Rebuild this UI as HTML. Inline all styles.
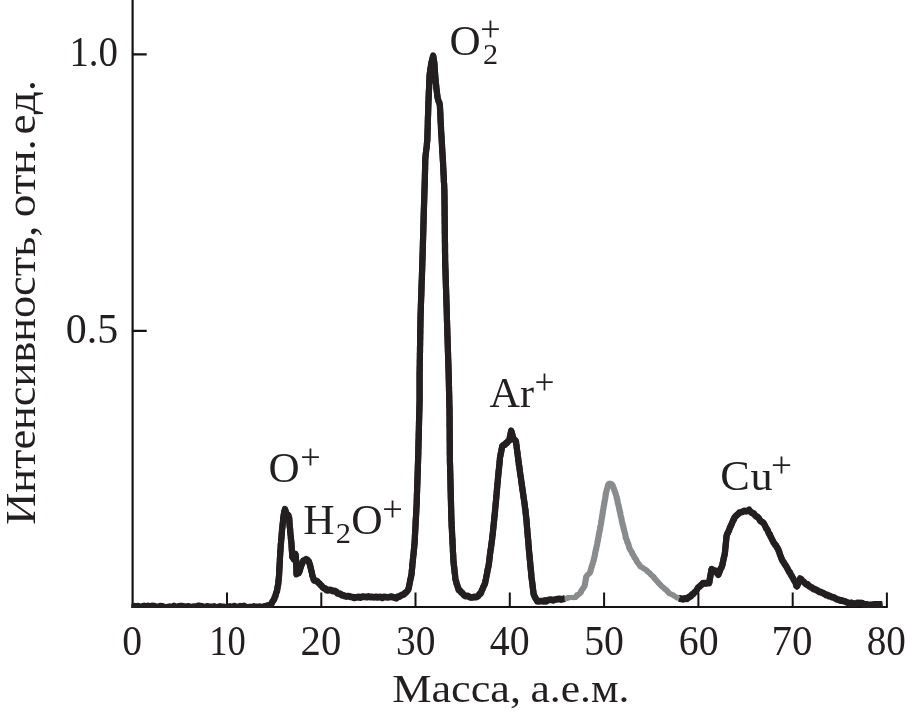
<!DOCTYPE html>
<html lang="ru"><head><meta charset="utf-8"><title>Масс-спектр</title>
<style>
html,body{margin:0;padding:0;background:#fff;}
svg{display:block;}
text{font-family:"Liberation Serif",serif;fill:#231f20;font-kerning:none;}
</style></head><body>
<svg width="907" height="716" viewBox="0 0 907 716">
<rect width="907" height="716" fill="#fff"/>
<g stroke="#151213" stroke-width="2.2" fill="none">
<path d="M132.6,0V607.9"/>
<path d="M131.5,606.9H887.8" stroke-width="2"/>
<path d="M132.6,54.45H146.7M132.6,330.8H146.7"/>
<path d="M227.0,606.9V592.4M321.3,606.9V592.4M415.5,606.9V592.4M509.8,606.9V592.4M604.1,606.9V592.4M698.4,606.9V592.4M792.7,606.9V592.4M886.9,606.9V592.4" stroke-width="2"/>
</g>
<clipPath id="plot"><rect x="131.5" y="0" width="760" height="607.9"/></clipPath>
<g fill="none" stroke-width="6.2" stroke-linejoin="round" stroke-linecap="butt" clip-path="url(#plot)">
<path stroke="#231f20" d="M131.6,606.6l1.5,-0.3l1.4,-0.4l1.5,0.9l2.0,-1.0l2.0,0.8l2.0,-0.3l2.0,-0.6l2.0,0.9l2.0,-0.9l2.0,0.7l2.0,-0.7l2.0,0.1l2.0,0.6l2.0,0.8l2.0,-1.4l2.0,0.2l2.0,0.8l2.0,0.6l2.0,-0.7l2.0,-0.3l2.0,1.0l2.0,-1.7l2.0,1.5l2.0,-1.0l2.0,-0.3l2.0,-0.1l2.0,0.4l2.0,0.9l2.0,-1.1l2.0,0.7l2.0,0.1l2.0,-0.5l2.0,0.3l2.0,-0.9l2.0,0.0l2.0,0.3l2.0,0.9l2.0,-0.5l2.0,-0.2l2.0,0.5l2.0,-0.2l2.0,-0.3l2.0,0.9l2.0,-0.2l2.0,-0.8l2.0,0.6l2.0,-0.1l2.0,0.7l2.0,-0.3l2.0,-0.8l2.0,1.2l2.0,-1.6l2.0,0.6l2.0,0.6l2.0,-1.1l2.0,0.6l2.0,-0.8l2.0,1.2l2.0,0.1l2.0,-0.3l2.0,0.6l1.6,-1.1l1.6,0.7l1.6,-0.2l1.6,-0.1l1.6,-0.2l1.3,0.4l1.4,0.0l1.3,-0.6l1.5,-0.0l1.5,-0.9l1.2,0.2l1.3,-0.6l1.1,-0.6l1.1,-1.2l0.9,-2.0l1.0,-1.4l0.6,-0.9l0.5,-2.0l0.6,-0.8l0.4,-1.7l0.4,-1.4l0.5,-1.5l0.4,-0.6l0.3,-2.4l0.3,-1.6l0.3,-1.6l0.3,-1.2l0.2,-2.5l0.1,-1.2l0.2,-1.5l0.1,-1.2l0.2,-1.7l0.1,-1.5l0.1,-2.2l0.1,-1.5l0.0,-1.6l0.1,-1.0l0.1,-1.5l0.1,-2.4l0.1,-1.5l0.1,-1.4l0.1,-1.5l0.0,-1.3l0.1,-1.4l0.1,-1.8l0.1,-2.0l0.1,-1.2l0.1,-1.7l0.1,-1.4l0.1,-1.3l0.1,-1.9l0.1,-1.8l0.2,-1.4l0.1,-1.4l0.1,-2.3l0.2,-0.6l0.1,-1.6l0.1,-1.4l0.1,-1.7l0.2,-1.9l0.1,-1.6l0.2,-2.1l0.2,-1.3l0.2,-2.4l0.2,-1.7l0.2,-1.5l0.1,-1.6l0.2,-1.5l0.2,-1.9l0.3,-1.7l0.2,-1.4l0.3,-1.7l0.3,-0.9l0.4,-1.5l1.0,3.1l0.4,1.1l0.5,0.9l1.5,1.1l0.4,1.4l0.4,1.3l0.1,1.4l0.1,2.5l0.1,1.9l0.1,1.1l0.1,1.5l0.2,1.0l0.2,1.5l0.1,1.7l0.1,1.4l0.2,2.1l0.1,0.8l0.2,1.3l0.1,2.5l0.2,1.1l0.1,1.1l0.2,1.9l0.1,1.0l0.1,2.0l0.1,2.1l0.1,1.4l0.1,1.3l0.1,1.1l0.1,1.6l0.1,1.4l0.1,2.1l0.8,0.9l0.8,1.5l0.4,-1.9l0.3,-1.6l0.4,-0.7l0.4,-1.2l0.2,1.4l0.1,1.5l0.2,1.6l0.1,1.5l0.2,1.0l0.0,1.9l0.1,1.3l0.0,1.2l0.1,1.5l-0.0,1.8l0.0,1.5l0.1,2.0l0.0,1.9l1.1,-1.1l1.2,0.0l0.6,-1.4l0.6,-1.6l0.5,-2.2l0.6,-1.7l0.6,-1.4l0.6,-1.5l0.5,-1.5l0.6,-1.0l1.4,-0.5l1.3,-0.8l1.4,0.8l1.3,1.3l0.5,1.7l0.4,0.7l0.5,2.2l0.5,1.8l0.3,1.4l0.3,1.5l0.4,1.2l0.3,1.3l0.3,2.2l0.4,0.8l0.5,1.9l0.5,1.5l0.4,0.7l1.5,0.3l1.6,0.8l1.0,1.2l1.1,0.7l1.0,1.3l1.2,1.0l1.2,1.7l1.3,0.8l1.2,0.2l1.2,1.7l1.5,0.2l1.5,-0.3l1.8,0.3l1.7,0.7l1.8,0.1l1.5,0.6l1.4,1.7l1.5,0.3l1.5,0.5l1.4,1.1l1.5,0.1l1.5,0.8l1.5,0.3l1.5,-0.3l1.5,0.3l1.5,0.4l1.5,0.3l1.5,0.7l1.6,-0.5l1.6,0.0l1.6,-0.5l1.6,0.7l1.6,-0.8l1.6,0.0l1.6,0.1l1.6,0.3l1.6,-0.6l1.6,0.5l1.5,-0.2l1.5,0.2l1.5,0.2l1.5,-0.4l1.6,0.5l1.5,-0.2l1.6,-0.2l1.6,0.9l1.7,-0.9l1.8,0.2l1.7,0.2l1.8,-0.3l1.7,-0.4l1.8,0.5l1.8,0.4l1.8,0.6l1.5,-1.5l1.6,-0.2l1.5,-1.0l1.5,-0.7l1.2,-0.3l1.1,-1.2l1.2,-0.8l0.8,-0.9l0.9,-1.0l0.8,-1.6l0.3,-1.3l0.3,-1.6l0.3,-1.5l0.3,-1.3l0.3,-1.8l0.3,-1.4l0.3,-1.6l0.3,-1.0l0.3,-1.7l0.3,-1.3l0.2,-1.5l0.1,-2.4l0.2,-1.2l0.1,-1.2l0.2,-1.7l0.1,-2.3l0.2,-1.6l0.2,-1.2l0.1,-2.0l0.2,-1.4l0.1,-1.8l0.2,-0.9l0.2,-1.5l0.1,-1.4l0.2,-2.4l0.1,-1.0l0.2,-1.6l0.1,-2.2l0.2,-0.7l0.1,-1.6l0.1,-2.4l0.1,-0.8l0.1,-2.3l0.0,-1.5l0.1,-1.1l0.1,-1.8l0.1,-2.3l0.1,-1.4l0.1,-1.5l0.1,-1.8l0.1,-1.8l0.0,-1.5l0.1,-1.2l0.1,-2.4l0.1,-1.0l0.1,-1.7l0.1,-2.1l0.1,-1.3l0.1,-1.3l0.0,-1.8l0.1,-2.1l0.1,-0.6l0.1,-1.8l0.1,-1.4l0.0,-2.6l0.1,-1.4l0.0,-1.9l0.1,-0.8l0.0,-2.2l0.1,-1.7l0.0,-1.3l0.1,-1.1l0.0,-1.7l0.1,-2.2l0.0,-1.8l0.1,-0.7l0.1,-2.0l0.0,-1.5l0.1,-2.3l0.0,-1.6l0.1,-0.9l0.0,-1.9l0.1,-2.0l0.0,-0.7l0.1,-1.9l0.0,-1.5l0.1,-2.4l0.0,-0.7l0.1,-2.5l0.0,-0.7l0.1,-2.1l0.0,-1.7l0.1,-1.3l0.0,-1.2l0.1,-2.3l-0.0,-1.8l0.0,-1.1l0.1,-1.9l0.0,-1.7l0.1,-1.5l-0.0,-1.7l0.0,-1.4l0.1,-1.5l0.0,-1.6l0.1,-1.1l-0.0,-2.1l0.0,-1.3l0.1,-1.9l0.0,-1.4l0.1,-2.0l-0.0,-1.3l0.0,-1.8l0.1,-0.8l0.0,-1.8l0.0,-2.0l0.1,-1.3l0.0,-1.0l0.1,-2.5l0.0,-0.8l0.0,-2.0l0.1,-1.5l0.0,-1.2l0.1,-2.1l0.0,-1.4l0.0,-1.4l0.1,-1.3l0.0,-2.3l0.1,-1.0l0.0,-1.7l0.0,-1.7l0.0,-1.9l0.0,-1.6l0.0,-1.9l0.0,-1.6l0.0,-1.6l0.0,-0.9l0.0,-2.1l0.0,-1.7l0.0,-1.7l0.0,-0.8l0.0,-1.5l0.0,-1.9l0.0,-2.0l0.0,-1.6l0.0,-1.6l0.0,-1.4l0.1,-1.9l-0.0,-1.2l0.0,-1.8l0.0,-0.8l0.1,-1.6l-0.0,-2.1l0.0,-1.9l0.0,-0.8l0.1,-2.3l-0.0,-1.5l0.0,-2.0l0.0,-1.2l0.1,-1.4l-0.0,-1.6l0.0,-1.9l0.0,-1.3l0.1,-2.1l-0.0,-1.3l0.0,-1.8l0.0,-1.2l0.1,-2.0l-0.0,-1.6l0.0,-1.3l0.0,-1.6l0.1,-1.2l-0.0,-1.7l0.0,-1.3l0.0,-1.7l0.1,-1.5l-0.0,-1.4l0.0,-2.1l0.0,-1.7l0.1,-0.8l-0.0,-2.6l0.0,-0.9l0.1,-1.7l0.0,-2.2l0.1,-0.7l0.0,-1.6l0.1,-1.8l0.0,-1.5l0.1,-1.5l0.0,-2.3l0.1,-1.2l0.0,-1.6l0.1,-1.2l0.0,-1.7l0.1,-1.5l0.1,-1.9l0.0,-1.2l0.1,-1.8l0.0,-1.6l0.1,-2.1l0.0,-1.8l0.1,-1.5l0.0,-1.3l0.1,-1.9l0.0,-0.8l0.1,-1.9l0.1,-1.5l0.0,-1.6l0.1,-1.5l0.0,-1.8l0.1,-2.1l0.0,-0.7l0.1,-1.7l0.0,-1.8l0.1,-1.6l0.0,-1.4l0.1,-2.3l0.0,-0.8l0.1,-2.1l0.0,-1.8l0.1,-1.4l0.0,-1.0l0.1,-2.2l0.0,-1.0l0.1,-1.3l0.0,-2.1l0.1,-1.7l-0.0,-1.5l0.0,-1.3l0.1,-1.5l0.0,-1.8l0.1,-1.5l0.0,-2.2l0.1,-1.5l0.0,-1.5l0.1,-1.0l-0.0,-2.1l0.0,-1.3l0.1,-2.2l0.0,-1.5l0.1,-1.4l0.0,-1.1l0.1,-1.5l0.0,-1.6l0.0,-2.0l0.1,-1.4l0.0,-1.6l0.1,-1.6l0.0,-2.0l0.1,-0.7l0.0,-2.3l0.1,-0.7l0.0,-1.7l0.1,-2.6l0.0,-1.1l0.1,-1.2l0.0,-1.4l0.1,-2.2l0.0,-1.8l0.1,-1.7l0.0,-0.8l0.1,-2.4l0.0,-1.2l0.1,-2.0l0.0,-1.2l0.1,-1.2l0.0,-2.5l0.1,-0.8l0.0,-2.0l0.1,-1.2l0.0,-1.8l0.0,-2.1l0.1,-0.9l0.0,-2.1l0.1,-2.1l-0.0,-1.7l0.0,-1.1l0.1,-1.6l-0.0,-1.8l0.0,-1.8l0.1,-1.4l0.0,-1.7l0.2,-1.0l0.2,-2.5l0.1,-0.8l0.2,-1.5l0.2,-2.4l0.2,-0.7l0.2,-1.8l0.2,-1.4l0.1,-2.3l0.2,-1.5l0.2,-1.6l0.0,-0.9l0.1,-2.1l0.0,-1.8l0.1,-1.5l0.0,-1.8l0.1,-1.8l0.0,-1.6l0.1,-0.8l0.0,-2.2l0.1,-0.9l0.0,-2.3l0.0,-1.6l0.1,-1.3l0.0,-2.0l0.1,-1.4l0.0,-0.9l0.1,-1.7l0.0,-1.7l0.1,-1.8l0.0,-1.3l0.1,-1.6l0.0,-2.0l0.1,-1.4l0.0,-2.3l0.1,-0.9l0.1,-1.9l0.0,-1.2l0.1,-1.7l0.1,-2.0l0.0,-1.9l0.1,-0.6l0.1,-2.5l0.1,-1.2l0.0,-1.7l0.1,-1.6l0.1,-1.1l0.0,-1.4l0.1,-2.3l0.1,-1.2l0.0,-2.0l0.1,-1.3l0.2,-1.8l0.3,-1.9l0.2,-1.7l0.2,-1.6l0.3,-0.9l0.2,-2.1l0.3,-2.0l0.2,-0.9l0.4,-1.3l0.5,-2.1l0.4,-1.7l0.4,-1.4l0.2,1.4l0.3,1.9l0.2,1.2l0.3,1.7l0.2,1.6l0.1,2.0l0.1,1.9l0.1,1.5l0.1,1.3l0.1,1.6l0.2,1.8l0.1,1.4l0.1,1.6l0.1,1.3l0.1,1.9l0.2,2.4l0.2,0.7l0.2,2.1l0.2,1.8l0.1,1.8l0.2,1.0l0.2,1.7l0.2,1.6l0.2,1.8l0.2,1.7l0.4,2.0l0.4,1.4l0.4,1.5l0.5,0.5l0.4,1.5l0.4,2.2l0.1,1.8l0.0,1.1l0.1,1.7l0.1,0.9l0.1,2.0l0.1,2.1l0.0,1.5l0.1,1.6l0.1,1.7l0.0,0.8l0.1,1.4l0.1,1.6l0.1,2.0l0.1,1.7l0.0,1.9l0.1,1.3l0.1,1.5l0.1,1.7l0.1,1.3l0.1,1.7l0.1,1.0l0.1,2.4l0.1,1.0l0.1,2.3l0.1,1.3l0.0,1.2l0.1,1.4l0.1,1.8l0.1,2.0l0.1,1.6l0.1,1.0l0.1,1.5l0.1,2.1l0.1,1.7l0.1,1.3l0.1,1.4l0.1,2.0l0.0,1.0l0.1,1.9l0.1,1.8l0.1,2.1l0.1,1.2l0.0,1.9l0.1,1.1l0.1,1.4l0.1,1.6l0.0,2.3l0.1,1.3l0.1,1.2l0.1,1.3l0.1,2.1l0.0,1.8l0.1,1.3l0.1,1.4l0.0,2.0l0.0,1.9l0.1,0.9l-0.0,1.4l-0.0,1.9l0.0,1.7l0.0,1.9l0.0,1.1l0.1,2.3l-0.0,1.5l-0.0,1.4l-0.0,1.3l0.0,2.4l0.0,0.9l0.0,2.2l0.1,0.9l-0.0,1.6l0.0,2.3l0.0,1.1l0.0,2.3l0.1,1.1l-0.0,1.3l-0.0,1.6l0.0,1.8l0.0,1.9l0.0,2.0l0.1,0.7l-0.0,1.9l-0.0,1.4l0.0,2.4l0.0,0.7l0.0,1.5l0.1,1.7l-0.0,1.9l-0.0,2.2l0.0,1.6l0.0,1.4l0.0,1.9l0.1,1.6l-0.0,0.9l-0.0,1.5l0.0,2.4l0.0,1.4l0.1,0.8l0.0,2.3l0.1,1.3l0.0,1.5l0.1,1.6l0.0,1.4l0.1,1.4l0.0,1.9l0.1,1.7l0.0,2.2l0.1,0.7l0.0,2.5l0.1,0.7l0.0,1.8l0.1,2.1l0.0,1.6l0.1,1.1l0.0,1.2l0.1,2.1l0.0,1.4l0.1,2.2l0.0,0.8l0.1,1.8l0.0,2.1l0.1,0.7l0.0,2.0l0.1,2.0l0.0,1.6l0.1,0.7l0.0,1.6l0.1,1.6l0.0,2.6l0.1,0.8l0.0,2.1l0.1,1.8l0.0,1.0l0.0,1.5l0.1,2.3l0.0,1.2l0.1,1.2l0.0,2.1l0.1,1.2l0.0,1.5l0.1,1.3l0.0,2.4l0.1,1.7l0.0,1.3l0.1,1.9l0.0,0.6l0.1,1.8l0.0,1.9l0.1,2.1l0.0,1.6l0.1,0.9l0.0,1.5l0.1,1.7l0.0,1.7l0.1,2.1l0.0,0.7l0.1,2.3l0.0,1.5l0.1,1.7l0.0,1.5l0.1,1.4l0.0,1.3l0.1,1.6l0.0,1.6l0.1,2.0l0.0,0.9l0.1,1.7l0.0,2.2l0.1,1.0l0.0,1.4l0.0,1.6l0.1,2.1l0.0,1.4l0.1,2.4l-0.0,1.5l0.0,1.7l0.1,0.8l0.0,1.4l0.0,1.7l0.1,2.0l0.0,1.9l0.1,1.3l-0.0,1.4l0.0,1.8l0.1,1.9l0.0,1.6l0.0,1.7l0.1,1.8l0.0,1.4l0.1,1.0l0.0,2.4l0.0,1.0l0.0,1.9l0.0,1.4l0.1,2.1l-0.0,1.0l-0.0,1.6l-0.0,1.7l0.0,1.5l0.0,2.4l0.0,1.3l0.0,1.3l0.1,1.7l-0.0,2.3l-0.0,1.0l-0.0,1.3l0.0,2.3l0.0,1.4l0.0,2.0l0.0,0.7l0.1,2.0l-0.0,2.0l-0.0,1.6l-0.0,1.7l0.0,0.7l0.0,1.8l0.0,1.5l0.0,1.7l0.1,2.4l-0.0,1.2l-0.0,2.0l0.0,1.0l0.0,2.1l0.1,1.2l0.0,1.3l0.1,2.2l-0.0,1.7l0.0,0.7l0.1,2.1l0.0,1.6l0.1,1.2l-0.0,1.7l0.0,1.4l0.1,1.6l0.0,1.6l0.1,2.0l-0.0,1.6l0.0,1.1l0.1,1.4l0.0,1.9l0.0,2.0l0.1,1.0l0.0,1.8l0.1,1.4l0.0,2.3l0.0,1.3l0.1,1.0l0.0,1.6l0.1,1.9l0.0,1.8l0.0,1.7l0.1,0.9l0.0,1.7l0.1,2.2l0.0,1.2l0.0,1.5l0.1,1.6l0.0,2.3l0.1,0.9l0.0,1.8l0.1,1.4l0.1,1.7l0.0,2.1l0.1,1.8l0.1,0.9l0.1,1.4l0.1,2.2l0.0,1.0l0.1,1.4l0.1,2.6l0.1,1.1l0.1,2.1l0.1,1.1l0.0,2.2l0.1,1.1l0.1,1.3l0.1,1.5l0.1,2.2l0.0,1.7l0.1,1.9l0.1,0.7l0.1,2.2l0.1,1.4l0.0,1.7l0.1,1.2l0.1,1.8l0.2,1.9l0.2,2.1l0.2,0.7l0.2,2.1l0.2,2.0l0.1,1.8l0.2,0.8l0.2,1.5l0.2,2.6l0.2,1.6l0.2,1.1l0.5,1.2l0.5,2.5l0.5,1.0l0.6,2.2l0.5,1.3l0.5,1.8l1.1,0.4l1.1,1.7l1.0,0.5l1.1,1.3l1.1,1.5l1.5,0.6l1.5,-0.1l1.5,0.6l1.5,0.8l1.5,0.2l1.5,-0.2l1.5,-0.3l1.5,0.2l1.1,-0.5l1.2,-0.8l1.1,-1.9l1.1,-0.4l0.6,-1.3l0.7,-2.3l0.6,-0.6l0.7,-2.3l0.6,-0.9l0.7,-1.6l0.6,-1.4l0.3,-2.0l0.4,-1.5l0.3,-1.5l0.3,-1.8l0.3,-1.4l0.4,-1.8l0.3,-1.7l0.3,-2.1l0.3,-0.9l0.4,-1.8l0.3,-1.9l0.2,-1.0l0.2,-1.6l0.2,-1.9l0.2,-1.9l0.2,-1.3l0.2,-2.0l0.2,-1.5l0.2,-1.3l0.2,-1.9l0.3,-1.2l0.2,-1.5l0.2,-2.1l0.2,-0.9l0.2,-2.2l0.2,-0.9l0.2,-1.5l0.2,-1.9l0.2,-2.1l0.2,-1.0l0.2,-1.8l0.1,-0.9l0.2,-2.5l0.1,-0.8l0.2,-1.4l0.1,-1.9l0.2,-1.5l0.2,-2.2l0.1,-0.7l0.2,-2.1l0.1,-1.1l0.2,-1.6l0.2,-2.4l0.1,-0.9l0.2,-1.5l0.1,-2.5l0.2,-1.3l0.1,-1.1l0.2,-2.2l0.1,-0.8l0.2,-2.3l0.1,-1.0l0.2,-2.3l0.1,-1.2l0.1,-1.2l0.2,-2.3l0.1,-1.6l0.2,-1.3l0.1,-1.8l0.2,-1.9l0.1,-1.4l0.1,-1.6l0.2,-0.8l0.1,-1.9l0.2,-1.3l0.1,-2.4l0.2,-1.0l0.1,-2.3l0.2,-1.2l0.1,-1.5l0.2,-1.9l0.2,-1.0l0.1,-2.0l0.2,-1.6l0.2,-1.3l0.1,-2.4l0.2,-0.7l0.1,-2.0l0.2,-1.9l0.3,-1.0l0.3,-2.1l0.3,-0.7l0.3,-2.0l0.3,-1.7l0.3,-1.1l0.3,-1.8l1.3,-1.3l1.3,-0.4l1.3,-1.7l1.0,-0.2l1.0,-1.6l1.0,-0.6l0.4,-1.1l0.3,-2.0l0.3,-1.4l0.4,-1.9l0.4,-1.8l0.3,-1.5l0.5,1.7l0.5,2.0l0.4,1.3l0.5,1.6l0.5,1.9l1.2,0.6l1.2,1.6l0.2,2.1l0.2,1.0l0.2,1.5l0.2,2.1l0.2,1.3l0.2,1.9l0.3,1.5l0.2,2.0l0.2,1.6l0.2,1.2l0.2,2.1l0.2,1.4l0.2,1.2l0.2,2.6l0.3,0.8l0.2,1.5l0.2,1.6l0.3,2.2l0.2,1.9l0.2,1.5l0.2,1.2l0.3,1.5l0.2,1.3l0.2,2.4l0.3,1.5l0.2,1.4l0.2,1.9l0.3,1.4l0.2,2.2l0.2,1.4l0.3,1.1l0.2,2.3l0.2,0.7l0.2,2.1l0.3,1.5l0.2,1.4l0.2,1.4l0.3,2.4l0.2,0.8l0.2,2.1l0.2,2.0l0.2,0.6l0.2,1.6l0.1,2.0l0.2,1.4l0.2,1.7l0.2,1.7l0.1,0.9l0.2,1.8l0.1,1.6l0.1,1.4l0.2,2.5l0.1,1.5l0.2,1.6l0.1,0.8l0.1,2.6l0.2,1.5l0.1,1.3l0.1,1.9l0.2,1.3l0.1,1.4l0.2,1.5l0.1,1.8l0.1,1.4l0.2,1.9l0.1,2.1l0.1,1.6l0.2,1.7l0.1,1.5l0.2,1.1l0.1,1.9l0.2,1.4l0.1,2.0l0.2,1.3l0.1,1.3l0.2,2.1l0.1,1.9l0.2,0.8l0.1,2.3l0.2,0.6l0.1,1.9l0.2,1.6l0.1,2.1l0.2,1.8l0.2,1.4l0.2,1.2l0.2,2.2l0.2,1.0l0.2,1.5l0.2,2.3l0.2,1.3l0.2,1.7l0.2,1.5l0.2,2.0l0.2,1.0l0.7,1.7l0.7,1.2l0.7,1.5l0.7,0.9l0.7,1.6l1.6,-0.0l1.7,-0.1l1.6,0.0l1.5,0.2l1.4,-0.8l1.5,0.7l1.5,-1.1l1.7,-0.4l1.7,-0.1l1.7,0.7l1.6,-0.7l1.7,-0.3l1.7,-0.3l1.6,-0.1l1.4,0.5l1.4,-0.4l1.3,-0.2l1.4,-0.5"/>
<path stroke="#231f20" d="M131.6,606.6l1.5,-0.3l1.4,-0.4l1.5,0.9l2.0,-1.0l2.0,0.8l2.0,-0.3l2.0,-0.6l2.0,0.9l2.0,-0.9l2.0,0.7l2.0,-0.7l2.0,0.1l2.0,0.6l2.0,0.8l2.0,-1.4l2.0,0.2l2.0,0.8l2.0,0.6l2.0,-0.7l2.0,-0.3l2.0,1.0l2.0,-1.7l2.0,1.5l2.0,-1.0l2.0,-0.3l2.0,-0.1l2.0,0.4l2.0,0.9l2.0,-1.1l2.0,0.7l2.0,0.1l2.0,-0.5l2.0,0.3l2.0,-0.9l2.0,0.0l2.0,0.3l2.0,0.9l2.0,-0.5l2.0,-0.2l2.0,0.5l2.0,-0.2l2.0,-0.3l2.0,0.9l2.0,-0.2l2.0,-0.8l2.0,0.6l2.0,-0.1l2.0,0.7l2.0,-0.3l2.0,-0.8l2.0,1.2l2.0,-1.6l2.0,0.6l2.0,0.6l2.0,-1.1l2.0,0.6l2.0,-0.8l2.0,1.2l2.0,0.1l2.0,-0.3l2.0,0.6l1.6,-1.1l1.6,0.7l1.6,-0.2l1.6,-0.1l1.6,-0.2l1.3,0.4l1.4,0.0l1.3,-0.6l1.5,-0.0l1.5,-0.9l1.2,0.2l1.3,-0.6l1.1,-0.6l1.1,-1.2l0.9,-2.0l1.0,-1.4l0.6,-0.9l0.5,-2.0l0.6,-0.8l0.4,-1.7l0.4,-1.4l0.5,-1.5l0.4,-0.6l0.3,-2.4l0.3,-1.6l0.3,-1.6l0.3,-1.2l0.2,-2.5l0.1,-1.2l0.2,-1.5l0.1,-1.2l0.2,-1.7l0.1,-1.5l0.1,-2.2l0.1,-1.5l0.0,-1.6l0.1,-1.0l0.1,-1.5l0.1,-2.4l0.1,-1.5l0.1,-1.4l0.1,-1.5l0.0,-1.3l0.1,-1.4l0.1,-1.8l0.1,-2.0l0.1,-1.2l0.1,-1.7l0.1,-1.4l0.1,-1.3l0.1,-1.9l0.1,-1.8l0.2,-1.4l0.1,-1.4l0.1,-2.3l0.2,-0.6l0.1,-1.6l0.1,-1.4l0.1,-1.7l0.2,-1.9l0.1,-1.6l0.2,-2.1l0.2,-1.3l0.2,-2.4l0.2,-1.7l0.2,-1.5l0.1,-1.6l0.2,-1.5l0.2,-1.9l0.3,-1.7l0.2,-1.4l0.3,-1.7l0.3,-0.9l0.4,-1.5l1.0,3.1l0.4,1.1l0.5,0.9l1.5,1.1l0.4,1.4l0.4,1.3l0.1,1.4l0.1,2.5l0.1,1.9l0.1,1.1l0.1,1.5l0.2,1.0l0.2,1.5l0.1,1.7l0.1,1.4l0.2,2.1l0.1,0.8l0.2,1.3l0.1,2.5l0.2,1.1l0.1,1.1l0.2,1.9l0.1,1.0l0.1,2.0l0.1,2.1l0.1,1.4l0.1,1.3l0.1,1.1l0.1,1.6l0.1,1.4l0.1,2.1l0.8,0.9l0.8,1.5l0.4,-1.9l0.3,-1.6l0.4,-0.7l0.4,-1.2l0.2,1.4l0.1,1.5l0.2,1.6l0.1,1.5l0.2,1.0l0.0,1.9l0.1,1.3l0.0,1.2l0.1,1.5l-0.0,1.8l0.0,1.5l0.1,2.0l0.0,1.9l1.1,-1.1l1.2,0.0l0.6,-1.4l0.6,-1.6l0.5,-2.2l0.6,-1.7l0.6,-1.4l0.6,-1.5l0.5,-1.5l0.6,-1.0l1.4,-0.5l1.3,-0.8l1.4,0.8l1.3,1.3l0.5,1.7l0.4,0.7l0.5,2.2l0.5,1.8l0.3,1.4l0.3,1.5l0.4,1.2l0.3,1.3l0.3,2.2l0.4,0.8l0.5,1.9l0.5,1.5l0.4,0.7l1.5,0.3l1.6,0.8l1.0,1.2l1.1,0.7l1.0,1.3l1.2,1.0l1.2,1.7l1.3,0.8l1.2,0.2l1.2,1.7l1.5,0.2l1.5,-0.3l1.8,0.3l1.7,0.7l1.8,0.1l1.5,0.6l1.4,1.7l1.5,0.3l1.5,0.5l1.4,1.1l1.5,0.1l1.5,0.8l1.5,0.3l1.5,-0.3l1.5,0.3l1.5,0.4l1.5,0.3l1.5,0.7l1.6,-0.5l1.6,0.0l1.6,-0.5l1.6,0.7l1.6,-0.8l1.6,0.0l1.6,0.1l1.6,0.3l1.6,-0.6l1.6,0.5l1.5,-0.2l1.5,0.2l1.5,0.2l1.5,-0.4l1.6,0.5l1.5,-0.2l1.6,-0.2l1.6,0.9l1.7,-0.9l1.8,0.2l1.7,0.2l1.8,-0.3l1.7,-0.4l1.8,0.5l1.8,0.4l1.8,0.6l1.5,-1.5l1.6,-0.2l1.5,-1.0l1.5,-0.7l1.2,-0.3l1.1,-1.2l1.2,-0.8l0.8,-0.9l0.9,-1.0l0.8,-1.6l0.3,-1.3l0.3,-1.6l0.3,-1.5l0.3,-1.3l0.3,-1.8l0.3,-1.4l0.3,-1.6l0.3,-1.0l0.3,-1.7l0.3,-1.3l0.2,-1.5l0.1,-2.4l0.2,-1.2l0.1,-1.2l0.2,-1.7l0.1,-2.3l0.2,-1.6l0.2,-1.2l0.1,-2.0l0.2,-1.4l0.1,-1.8l0.2,-0.9l0.2,-1.5l0.1,-1.4l0.2,-2.4l0.1,-1.0l0.2,-1.6l0.1,-2.2l0.2,-0.7l0.1,-1.6l0.1,-2.4l0.1,-0.8l0.1,-2.3l0.0,-1.5l0.1,-1.1l0.1,-1.8l0.1,-2.3l0.1,-1.4l0.1,-1.5l0.1,-1.8l0.1,-1.8l0.0,-1.5l0.1,-1.2l0.1,-2.4l0.1,-1.0l0.1,-1.7l0.1,-2.1l0.1,-1.3l0.1,-1.3l0.0,-1.8l0.1,-2.1l0.1,-0.6l0.1,-1.8l0.1,-1.4l0.0,-2.6l0.1,-1.4l0.0,-1.9l0.1,-0.8l0.0,-2.2l0.1,-1.7l0.0,-1.3l0.1,-1.1l0.0,-1.7l0.1,-2.2l0.0,-1.8l0.1,-0.7l0.1,-2.0l0.0,-1.5l0.1,-2.3l0.0,-1.6l0.1,-0.9l0.0,-1.9l0.1,-2.0l0.0,-0.7l0.1,-1.9l0.0,-1.5l0.1,-2.4l0.0,-0.7l0.1,-2.5l0.0,-0.7l0.1,-2.1l0.0,-1.7l0.1,-1.3l0.0,-1.2l0.1,-2.3l-0.0,-1.8l0.0,-1.1l0.1,-1.9l0.0,-1.7l0.1,-1.5l-0.0,-1.7l0.0,-1.4l0.1,-1.5l0.0,-1.6l0.1,-1.1l-0.0,-2.1l0.0,-1.3l0.1,-1.9l0.0,-1.4l0.1,-2.0l-0.0,-1.3l0.0,-1.8l0.1,-0.8l0.0,-1.8l0.0,-2.0l0.1,-1.3l0.0,-1.0l0.1,-2.5l0.0,-0.8l0.0,-2.0l0.1,-1.5l0.0,-1.2l0.1,-2.1l0.0,-1.4l0.0,-1.4l0.1,-1.3l0.0,-2.3l0.1,-1.0l0.0,-1.7l0.0,-1.7l0.0,-1.9l0.0,-1.6l0.0,-1.9l0.0,-1.6l0.0,-1.6l0.0,-0.9l0.0,-2.1l0.0,-1.7l0.0,-1.7l0.0,-0.8l0.0,-1.5l0.0,-1.9l0.0,-2.0l0.0,-1.6l0.0,-1.6l0.0,-1.4l0.1,-1.9l-0.0,-1.2l0.0,-1.8l0.0,-0.8l0.1,-1.6l-0.0,-2.1l0.0,-1.9l0.0,-0.8l0.1,-2.3l-0.0,-1.5l0.0,-2.0l0.0,-1.2l0.1,-1.4l-0.0,-1.6l0.0,-1.9l0.0,-1.3l0.1,-2.1l-0.0,-1.3l0.0,-1.8l0.0,-1.2l0.1,-2.0l-0.0,-1.6l0.0,-1.3l0.0,-1.6l0.1,-1.2l-0.0,-1.7l0.0,-1.3l0.0,-1.7l0.1,-1.5l-0.0,-1.4l0.0,-2.1l0.0,-1.7l0.1,-0.8l-0.0,-2.6l0.0,-0.9l0.1,-1.7l0.0,-2.2l0.1,-0.7l0.0,-1.6l0.1,-1.8l0.0,-1.5l0.1,-1.5l0.0,-2.3l0.1,-1.2l0.0,-1.6l0.1,-1.2l0.0,-1.7l0.1,-1.5l0.1,-1.9l0.0,-1.2l0.1,-1.8l0.0,-1.6l0.1,-2.1l0.0,-1.8l0.1,-1.5l0.0,-1.3l0.1,-1.9l0.0,-0.8l0.1,-1.9l0.1,-1.5l0.0,-1.6l0.1,-1.5l0.0,-1.8l0.1,-2.1l0.0,-0.7l0.1,-1.7l0.0,-1.8l0.1,-1.6l0.0,-1.4l0.1,-2.3l0.0,-0.8l0.1,-2.1l0.0,-1.8l0.1,-1.4l0.0,-1.0l0.1,-2.2l0.0,-1.0l0.1,-1.3l0.0,-2.1l0.1,-1.7l-0.0,-1.5l0.0,-1.3l0.1,-1.5l0.0,-1.8l0.1,-1.5l0.0,-2.2l0.1,-1.5l0.0,-1.5l0.1,-1.0l-0.0,-2.1l0.0,-1.3l0.1,-2.2l0.0,-1.5l0.1,-1.4l0.0,-1.1l0.1,-1.5l0.0,-1.6l0.0,-2.0l0.1,-1.4l0.0,-1.6l0.1,-1.6l0.0,-2.0l0.1,-0.7l0.0,-2.3l0.1,-0.7l0.0,-1.7l0.1,-2.6l0.0,-1.1l0.1,-1.2l0.0,-1.4l0.1,-2.2l0.0,-1.8l0.1,-1.7l0.0,-0.8l0.1,-2.4l0.0,-1.2l0.1,-2.0l0.0,-1.2l0.1,-1.2l0.0,-2.5l0.1,-0.8l0.0,-2.0l0.1,-1.2l0.0,-1.8l0.0,-2.1l0.1,-0.9l0.0,-2.1l0.1,-2.1l-0.0,-1.7l0.0,-1.1l0.1,-1.6l-0.0,-1.8l0.0,-1.8l0.1,-1.4l0.0,-1.7l0.2,-1.0l0.2,-2.5l0.1,-0.8l0.2,-1.5l0.2,-2.4l0.2,-0.7l0.2,-1.8l0.2,-1.4l0.1,-2.3l0.2,-1.5l0.2,-1.6l0.0,-0.9l0.1,-2.1l0.0,-1.8l0.1,-1.5l0.0,-1.8l0.1,-1.8l0.0,-1.6l0.1,-0.8l0.0,-2.2l0.1,-0.9l0.0,-2.3l0.0,-1.6l0.1,-1.3l0.0,-2.0l0.1,-1.4l0.0,-0.9l0.1,-1.7l0.0,-1.7l0.1,-1.8l0.0,-1.3l0.1,-1.6l0.0,-2.0l0.1,-1.4l0.0,-2.3l0.1,-0.9l0.1,-1.9l0.0,-1.2l0.1,-1.7l0.1,-2.0l0.0,-1.9l0.1,-0.6l0.1,-2.5l0.1,-1.2l0.0,-1.7l0.1,-1.6l0.1,-1.1l0.0,-1.4l0.1,-2.3l0.1,-1.2l0.0,-2.0l0.1,-1.3l0.2,-1.8l0.3,-1.9l0.2,-1.7l0.2,-1.6l0.3,-0.9l0.2,-2.1l0.3,-2.0l0.2,-0.9l0.4,-1.3l0.5,-2.1l0.4,-1.7l0.4,-1.4l0.2,1.4l0.3,1.9l0.2,1.2l0.3,1.7l0.2,1.6l0.1,2.0l0.1,1.9l0.1,1.5l0.1,1.3l0.1,1.6l0.2,1.8l0.1,1.4l0.1,1.6l0.1,1.3l0.1,1.9l0.2,2.4l0.2,0.7l0.2,2.1l0.2,1.8l0.1,1.8l0.2,1.0l0.2,1.7l0.2,1.6l0.2,1.8l0.2,1.7l0.4,2.0l0.4,1.4l0.4,1.5l0.5,0.5l0.4,1.5l0.4,2.2l0.1,1.8l0.0,1.1l0.1,1.7l0.1,0.9l0.1,2.0l0.1,2.1l0.0,1.5l0.1,1.6l0.1,1.7l0.0,0.8l0.1,1.4l0.1,1.6l0.1,2.0l0.1,1.7l0.0,1.9l0.1,1.3l0.1,1.5l0.1,1.7l0.1,1.3l0.1,1.7l0.1,1.0l0.1,2.4l0.1,1.0l0.1,2.3l0.1,1.3l0.0,1.2l0.1,1.4l0.1,1.8l0.1,2.0l0.1,1.6l0.1,1.0l0.1,1.5l0.1,2.1l0.1,1.7l0.1,1.3l0.1,1.4l0.1,2.0l0.0,1.0l0.1,1.9l0.1,1.8l0.1,2.1l0.1,1.2l0.0,1.9l0.1,1.1l0.1,1.4l0.1,1.6l0.0,2.3l0.1,1.3l0.1,1.2l0.1,1.3l0.1,2.1l0.0,1.8l0.1,1.3l0.1,1.4l0.0,2.0l0.0,1.9l0.1,0.9l-0.0,1.4l-0.0,1.9l0.0,1.7l0.0,1.9l0.0,1.1l0.1,2.3l-0.0,1.5l-0.0,1.4l-0.0,1.3l0.0,2.4l0.0,0.9l0.0,2.2l0.1,0.9l-0.0,1.6l0.0,2.3l0.0,1.1l0.0,2.3l0.1,1.1l-0.0,1.3l-0.0,1.6l0.0,1.8l0.0,1.9l0.0,2.0l0.1,0.7l-0.0,1.9l-0.0,1.4l0.0,2.4l0.0,0.7l0.0,1.5l0.1,1.7l-0.0,1.9l-0.0,2.2l0.0,1.6l0.0,1.4l0.0,1.9l0.1,1.6l-0.0,0.9l-0.0,1.5l0.0,2.4l0.0,1.4l0.1,0.8l0.0,2.3l0.1,1.3l0.0,1.5l0.1,1.6l0.0,1.4l0.1,1.4l0.0,1.9l0.1,1.7l0.0,2.2l0.1,0.7l0.0,2.5l0.1,0.7l0.0,1.8l0.1,2.1l0.0,1.6l0.1,1.1l0.0,1.2l0.1,2.1l0.0,1.4l0.1,2.2l0.0,0.8l0.1,1.8l0.0,2.1l0.1,0.7l0.0,2.0l0.1,2.0l0.0,1.6l0.1,0.7l0.0,1.6l0.1,1.6l0.0,2.6l0.1,0.8l0.0,2.1l0.1,1.8l0.0,1.0l0.0,1.5l0.1,2.3l0.0,1.2l0.1,1.2l0.0,2.1l0.1,1.2l0.0,1.5l0.1,1.3l0.0,2.4l0.1,1.7l0.0,1.3l0.1,1.9l0.0,0.6l0.1,1.8l0.0,1.9l0.1,2.1l0.0,1.6l0.1,0.9l0.0,1.5l0.1,1.7l0.0,1.7l0.1,2.1l0.0,0.7l0.1,2.3l0.0,1.5l0.1,1.7l0.0,1.5l0.1,1.4l0.0,1.3l0.1,1.6l0.0,1.6l0.1,2.0l0.0,0.9l0.1,1.7l0.0,2.2l0.1,1.0l0.0,1.4l0.0,1.6l0.1,2.1l0.0,1.4l0.1,2.4l-0.0,1.5l0.0,1.7l0.1,0.8l0.0,1.4l0.0,1.7l0.1,2.0l0.0,1.9l0.1,1.3l-0.0,1.4l0.0,1.8l0.1,1.9l0.0,1.6l0.0,1.7l0.1,1.8l0.0,1.4l0.1,1.0l0.0,2.4l0.0,1.0l0.0,1.9l0.0,1.4l0.1,2.1l-0.0,1.0l-0.0,1.6l-0.0,1.7l0.0,1.5l0.0,2.4l0.0,1.3l0.0,1.3l0.1,1.7l-0.0,2.3l-0.0,1.0l-0.0,1.3l0.0,2.3l0.0,1.4l0.0,2.0l0.0,0.7l0.1,2.0l-0.0,2.0l-0.0,1.6l-0.0,1.7l0.0,0.7l0.0,1.8l0.0,1.5l0.0,1.7l0.1,2.4l-0.0,1.2l-0.0,2.0l0.0,1.0l0.0,2.1l0.1,1.2l0.0,1.3l0.1,2.2l-0.0,1.7l0.0,0.7l0.1,2.1l0.0,1.6l0.1,1.2l-0.0,1.7l0.0,1.4l0.1,1.6l0.0,1.6l0.1,2.0l-0.0,1.6l0.0,1.1l0.1,1.4l0.0,1.9l0.0,2.0l0.1,1.0l0.0,1.8l0.1,1.4l0.0,2.3l0.0,1.3l0.1,1.0l0.0,1.6l0.1,1.9l0.0,1.8l0.0,1.7l0.1,0.9l0.0,1.7l0.1,2.2l0.0,1.2l0.0,1.5l0.1,1.6l0.0,2.3l0.1,0.9l0.0,1.8l0.1,1.4l0.1,1.7l0.0,2.1l0.1,1.8l0.1,0.9l0.1,1.4l0.1,2.2l0.0,1.0l0.1,1.4l0.1,2.6l0.1,1.1l0.1,2.1l0.1,1.1l0.0,2.2l0.1,1.1l0.1,1.3l0.1,1.5l0.1,2.2l0.0,1.7l0.1,1.9l0.1,0.7l0.1,2.2l0.1,1.4l0.0,1.7l0.1,1.2l0.1,1.8l0.2,1.9l0.2,2.1l0.2,0.7l0.2,2.1l0.2,2.0l0.1,1.8l0.2,0.8l0.2,1.5l0.2,2.6l0.2,1.6l0.2,1.1l0.5,1.2l0.5,2.5l0.5,1.0l0.6,2.2l0.5,1.3l0.5,1.8l1.1,0.4l1.1,1.7l1.0,0.5l1.1,1.3l1.1,1.5l1.5,0.6l1.5,-0.1l1.5,0.6l1.5,0.8l1.5,0.2l1.5,-0.2l1.5,-0.3l1.5,0.2l1.1,-0.5l1.2,-0.8l1.1,-1.9l1.1,-0.4l0.6,-1.3l0.7,-2.3l0.6,-0.6l0.7,-2.3l0.6,-0.9l0.7,-1.6l0.6,-1.4l0.3,-2.0l0.4,-1.5l0.3,-1.5l0.3,-1.8l0.3,-1.4l0.4,-1.8l0.3,-1.7l0.3,-2.1l0.3,-0.9l0.4,-1.8l0.3,-1.9l0.2,-1.0l0.2,-1.6l0.2,-1.9l0.2,-1.9l0.2,-1.3l0.2,-2.0l0.2,-1.5l0.2,-1.3l0.2,-1.9l0.3,-1.2l0.2,-1.5l0.2,-2.1l0.2,-0.9l0.2,-2.2l0.2,-0.9l0.2,-1.5l0.2,-1.9l0.2,-2.1l0.2,-1.0l0.2,-1.8l0.1,-0.9l0.2,-2.5l0.1,-0.8l0.2,-1.4l0.1,-1.9l0.2,-1.5l0.2,-2.2l0.1,-0.7l0.2,-2.1l0.1,-1.1l0.2,-1.6l0.2,-2.4l0.1,-0.9l0.2,-1.5l0.1,-2.5l0.2,-1.3l0.1,-1.1l0.2,-2.2l0.1,-0.8l0.2,-2.3l0.1,-1.0l0.2,-2.3l0.1,-1.2l0.1,-1.2l0.2,-2.3l0.1,-1.6l0.2,-1.3l0.1,-1.8l0.2,-1.9l0.1,-1.4l0.1,-1.6l0.2,-0.8l0.1,-1.9l0.2,-1.3l0.1,-2.4l0.2,-1.0l0.1,-2.3l0.2,-1.2l0.1,-1.5l0.2,-1.9l0.2,-1.0l0.1,-2.0l0.2,-1.6l0.2,-1.3l0.1,-2.4l0.2,-0.7l0.1,-2.0l0.2,-1.9l0.3,-1.0l0.3,-2.1l0.3,-0.7l0.3,-2.0l0.3,-1.7l0.3,-1.1l0.3,-1.8l1.3,-1.3l1.3,-0.4l1.3,-1.7l1.0,-0.2l1.0,-1.6l1.0,-0.6l0.4,-1.1l0.3,-2.0l0.3,-1.4l0.4,-1.9l0.4,-1.8l0.3,-1.5l0.5,1.7l0.5,2.0l0.4,1.3l0.5,1.6l0.5,1.9l1.2,0.6l1.2,1.6l0.2,2.1l0.2,1.0l0.2,1.5l0.2,2.1l0.2,1.3l0.2,1.9l0.3,1.5l0.2,2.0l0.2,1.6l0.2,1.2l0.2,2.1l0.2,1.4l0.2,1.2l0.2,2.6l0.3,0.8l0.2,1.5l0.2,1.6l0.3,2.2l0.2,1.9l0.2,1.5l0.2,1.2l0.3,1.5l0.2,1.3l0.2,2.4l0.3,1.5l0.2,1.4l0.2,1.9l0.3,1.4l0.2,2.2l0.2,1.4l0.3,1.1l0.2,2.3l0.2,0.7l0.2,2.1l0.3,1.5l0.2,1.4l0.2,1.4l0.3,2.4l0.2,0.8l0.2,2.1l0.2,2.0l0.2,0.6l0.2,1.6l0.1,2.0l0.2,1.4l0.2,1.7l0.2,1.7l0.1,0.9l0.2,1.8l0.1,1.6l0.1,1.4l0.2,2.5l0.1,1.5l0.2,1.6l0.1,0.8l0.1,2.6l0.2,1.5l0.1,1.3l0.1,1.9l0.2,1.3l0.1,1.4l0.2,1.5l0.1,1.8l0.1,1.4l0.2,1.9l0.1,2.1l0.1,1.6l0.2,1.7l0.1,1.5l0.2,1.1l0.1,1.9l0.2,1.4l0.1,2.0l0.2,1.3l0.1,1.3l0.2,2.1l0.1,1.9l0.2,0.8l0.1,2.3l0.2,0.6l0.1,1.9l0.2,1.6l0.1,2.1l0.2,1.8l0.2,1.4l0.2,1.2l0.2,2.2l0.2,1.0l0.2,1.5l0.2,2.3l0.2,1.3l0.2,1.7l0.2,1.5l0.2,2.0l0.2,1.0l0.7,1.7l0.7,1.2l0.7,1.5l0.7,0.9l0.7,1.6l1.6,-0.0l1.7,-0.1l1.6,0.0l1.5,0.2l1.4,-0.8l1.5,0.7l1.5,-1.1l1.7,-0.4l1.7,-0.1l1.7,0.7l1.6,-0.7l1.7,-0.3l1.7,-0.3l1.6,-0.1l1.4,0.5l1.4,-0.4l1.3,-0.2l1.4,-0.5" transform="translate(0,0.7)"/>
<path stroke="#231f20" d="M678.5,598.1l1.5,0.0l1.5,0.4l1.5,0.4l1.4,-0.9l1.5,0.4l1.4,-0.0l1.2,-1.4l1.2,-0.7l1.2,-0.4l1.2,-1.9l1.2,-0.3l1.0,-1.6l1.0,-0.6l0.9,-1.0l1.0,-1.7l1.0,-1.7l1.2,-0.7l1.2,-1.2l1.2,-1.0l1.2,-1.4l1.5,0.1l1.5,0.2l1.6,-0.3l1.5,-0.1l0.3,-0.9l0.2,-2.3l0.3,-1.0l0.3,-1.8l0.2,-1.1l0.3,-2.2l0.3,-0.5l0.2,-2.2l0.3,-1.8l1.9,0.9l1.8,0.7l1.0,0.8l1.1,1.7l1.0,1.2l0.6,-1.1l0.6,-1.8l0.6,-1.5l0.5,-1.4l0.6,-0.8l0.6,-1.2l0.6,-1.8l0.3,-1.9l0.3,-0.8l0.3,-2.0l0.4,-1.7l0.3,-1.6l0.3,-0.8l0.3,-1.5l0.3,-1.7l0.2,-1.7l0.1,-1.5l0.2,-1.9l0.1,-0.7l0.2,-2.2l0.1,-1.3l0.2,-1.3l0.1,-1.6l0.2,-1.9l0.1,-1.7l0.2,-1.3l0.6,-1.9l0.6,-0.7l0.7,-2.0l0.6,-0.9l0.6,-2.1l0.7,-1.4l0.7,-1.7l0.7,-1.4l0.7,-1.8l0.7,-1.8l0.7,-0.7l0.7,-2.1l1.2,-1.3l1.2,-1.1l1.2,-1.0l1.2,-1.3l1.6,-0.4l1.7,-0.5l1.6,-0.9l1.6,0.4l1.6,-0.3l1.6,-1.1l1.2,1.7l1.2,1.0l1.3,0.8l1.2,0.3l1.2,1.9l1.2,1.0l1.2,0.5l1.2,1.2l1.2,2.3l1.2,0.9l1.3,0.8l1.2,1.0l0.8,1.5l0.8,1.5l0.8,2.0l0.8,0.9l0.8,1.2l0.8,2.2l0.7,1.3l0.7,0.7l0.7,2.1l0.7,1.1l0.7,1.6l0.7,1.2l0.7,1.7l1.0,1.3l0.9,1.5l1.0,0.8l0.9,2.0l1.0,1.3l0.5,1.8l0.6,1.2l0.5,2.0l0.5,1.2l0.5,1.3l0.6,1.5l0.5,1.5l1.0,1.8l0.9,1.0l1.0,1.9l0.9,1.1l1.0,1.8l0.8,1.5l0.8,1.4l0.9,1.8l0.8,0.5l0.8,2.3l0.8,1.0l0.9,1.6l0.9,1.7l0.9,1.7l0.9,1.0l0.6,1.7l0.5,2.2l0.6,0.6l0.5,-0.8l0.6,-1.4l0.5,-2.1l0.5,-0.8l0.6,-1.3l0.5,-1.2l1.2,0.6l1.2,1.9l1.2,0.7l1.2,1.2l1.5,1.4l1.4,0.1l1.5,1.7l1.4,0.8l1.5,0.7l1.4,1.3l1.4,0.2l1.5,0.8l1.4,0.8l1.4,1.0l1.4,0.1l1.4,0.9l1.4,0.5l1.4,0.8l1.3,0.9l1.4,-0.0l1.4,1.1l1.4,0.1l1.6,0.8l1.6,0.3l1.6,0.9l1.7,1.1l1.6,0.3l1.6,0.8l1.6,-0.0l1.6,0.5l1.7,0.5l1.6,0.8l1.6,0.6l1.6,0.7l1.6,-0.8l1.6,0.8l1.6,0.2l1.7,-0.4l1.6,-0.5l1.6,0.3l1.6,-0.1l1.6,0.4l1.6,1.1l1.7,-0.2l1.6,0.3l1.6,0.4l1.7,0.0l1.7,-0.4l1.7,-0.1l1.7,-0.1l1.6,0.1l1.6,-0.1l1.7,0.1l1.6,-0.2"/>
<path stroke="#231f20" d="M678.5,598.1l1.5,0.0l1.5,0.4l1.5,0.4l1.4,-0.9l1.5,0.4l1.4,-0.0l1.2,-1.4l1.2,-0.7l1.2,-0.4l1.2,-1.9l1.2,-0.3l1.0,-1.6l1.0,-0.6l0.9,-1.0l1.0,-1.7l1.0,-1.7l1.2,-0.7l1.2,-1.2l1.2,-1.0l1.2,-1.4l1.5,0.1l1.5,0.2l1.6,-0.3l1.5,-0.1l0.3,-0.9l0.2,-2.3l0.3,-1.0l0.3,-1.8l0.2,-1.1l0.3,-2.2l0.3,-0.5l0.2,-2.2l0.3,-1.8l1.9,0.9l1.8,0.7l1.0,0.8l1.1,1.7l1.0,1.2l0.6,-1.1l0.6,-1.8l0.6,-1.5l0.5,-1.4l0.6,-0.8l0.6,-1.2l0.6,-1.8l0.3,-1.9l0.3,-0.8l0.3,-2.0l0.4,-1.7l0.3,-1.6l0.3,-0.8l0.3,-1.5l0.3,-1.7l0.2,-1.7l0.1,-1.5l0.2,-1.9l0.1,-0.7l0.2,-2.2l0.1,-1.3l0.2,-1.3l0.1,-1.6l0.2,-1.9l0.1,-1.7l0.2,-1.3l0.6,-1.9l0.6,-0.7l0.7,-2.0l0.6,-0.9l0.6,-2.1l0.7,-1.4l0.7,-1.7l0.7,-1.4l0.7,-1.8l0.7,-1.8l0.7,-0.7l0.7,-2.1l1.2,-1.3l1.2,-1.1l1.2,-1.0l1.2,-1.3l1.6,-0.4l1.7,-0.5l1.6,-0.9l1.6,0.4l1.6,-0.3l1.6,-1.1l1.2,1.7l1.2,1.0l1.3,0.8l1.2,0.3l1.2,1.9l1.2,1.0l1.2,0.5l1.2,1.2l1.2,2.3l1.2,0.9l1.3,0.8l1.2,1.0l0.8,1.5l0.8,1.5l0.8,2.0l0.8,0.9l0.8,1.2l0.8,2.2l0.7,1.3l0.7,0.7l0.7,2.1l0.7,1.1l0.7,1.6l0.7,1.2l0.7,1.7l1.0,1.3l0.9,1.5l1.0,0.8l0.9,2.0l1.0,1.3l0.5,1.8l0.6,1.2l0.5,2.0l0.5,1.2l0.5,1.3l0.6,1.5l0.5,1.5l1.0,1.8l0.9,1.0l1.0,1.9l0.9,1.1l1.0,1.8l0.8,1.5l0.8,1.4l0.9,1.8l0.8,0.5l0.8,2.3l0.8,1.0l0.9,1.6l0.9,1.7l0.9,1.7l0.9,1.0l0.6,1.7l0.5,2.2l0.6,0.6l0.5,-0.8l0.6,-1.4l0.5,-2.1l0.5,-0.8l0.6,-1.3l0.5,-1.2l1.2,0.6l1.2,1.9l1.2,0.7l1.2,1.2l1.5,1.4l1.4,0.1l1.5,1.7l1.4,0.8l1.5,0.7l1.4,1.3l1.4,0.2l1.5,0.8l1.4,0.8l1.4,1.0l1.4,0.1l1.4,0.9l1.4,0.5l1.4,0.8l1.3,0.9l1.4,-0.0l1.4,1.1l1.4,0.1l1.6,0.8l1.6,0.3l1.6,0.9l1.7,1.1l1.6,0.3l1.6,0.8l1.6,-0.0l1.6,0.5l1.7,0.5l1.6,0.8l1.6,0.6l1.6,0.7l1.6,-0.8l1.6,0.8l1.6,0.2l1.7,-0.4l1.6,-0.5l1.6,0.3l1.6,-0.1l1.6,0.4l1.6,1.1l1.7,-0.2l1.6,0.3l1.6,0.4l1.7,0.0l1.7,-0.4l1.7,-0.1l1.7,-0.1l1.6,0.1l1.6,-0.1l1.7,0.1l1.6,-0.2" transform="translate(0,0.7)"/>
<path stroke="#8a8b8d" stroke-width="5" d="M565.2,598.1l1.6,-0.0l1.6,-1.0l1.6,0.2l1.7,-0.3l1.7,0.3l1.7,-0.1l1.1,-0.9l1.1,-1.9l1.1,-0.1l1.1,-0.9l1.1,-1.0l0.9,-2.3l1.0,-1.2l1.0,-1.5l0.9,-1.5l0.3,-0.7l0.3,-1.7l0.3,-1.9l0.3,-1.4l0.3,-1.9l0.3,-2.0l1.0,-1.3l1.0,-1.1l0.9,-0.4l1.0,-1.7l0.4,-1.3l0.4,-1.4l0.5,-1.9l0.4,-1.2l0.4,-1.5l0.4,-1.0l0.5,-1.8l0.4,-1.6l0.4,-0.7l0.3,-2.1l0.4,-1.1l0.3,-1.8l0.3,-2.2l0.3,-1.1l0.4,-1.6l0.3,-1.1l0.3,-2.0l0.4,-1.2l0.3,-1.7l0.3,-2.0l0.3,-0.9l0.3,-2.4l0.3,-0.8l0.3,-2.3l0.3,-1.8l0.3,-1.4l0.3,-1.0l0.3,-1.3l0.3,-2.7l0.3,-1.1l0.3,-1.5l0.2,-1.2l0.3,-2.2l0.2,-1.2l0.3,-1.7l0.2,-1.0l0.3,-2.1l0.2,-0.8l0.3,-2.3l0.2,-1.6l0.3,-1.0l0.2,-1.7l0.3,-2.0l0.3,-0.9l0.2,-2.2l0.3,-0.8l0.2,-1.6l0.3,-1.4l0.3,-1.7l0.2,-1.9l0.3,-1.5l0.2,-1.5l0.3,-1.0l0.6,-2.6l0.5,-0.7l0.5,-2.6l0.6,-1.5l0.9,-0.7l0.9,-0.1l1.1,0.9l1.1,1.2l0.5,2.0l0.6,0.8l0.5,1.7l0.6,1.6l0.6,1.7l0.5,1.4l0.4,1.5l0.3,1.3l0.4,1.5l0.4,1.4l0.3,2.4l0.4,1.4l0.4,1.6l0.3,1.0l0.4,1.9l0.3,1.9l0.4,1.3l0.3,1.1l0.3,1.9l0.4,2.0l0.3,0.8l0.3,1.5l0.3,1.7l0.4,1.9l0.3,1.7l0.4,0.7l0.3,1.5l0.4,1.6l0.4,1.6l0.3,1.7l0.4,1.0l0.4,1.7l0.3,1.3l0.4,2.4l0.5,1.3l0.6,0.9l0.5,2.5l0.6,0.6l0.5,1.9l0.6,2.2l0.5,1.4l0.7,1.3l0.8,1.1l0.7,1.2l0.7,1.9l0.7,0.8l0.8,1.5l0.7,1.6l0.9,0.9l0.8,1.7l0.9,1.6l0.9,1.2l0.9,1.0l0.8,1.4l0.9,1.1l1.5,0.5l1.5,1.4l1.5,0.6l1.5,1.2l1.1,1.3l1.1,0.6l1.1,1.2l1.1,1.3l1.1,0.8l1.1,0.9l1.1,1.6l1.1,1.4l1.1,1.2l1.1,1.1l1.1,1.5l1.1,1.0l1.1,1.2l1.1,1.1l1.3,0.9l1.3,1.5l1.2,0.5l1.3,1.5l1.3,1.5l1.3,1.0l1.4,0.7l1.5,0.5l1.4,1.0l1.4,0.9l1.5,1.0l1.4,0.8" transform="translate(-0.6,0.35)"/>
<path stroke="#8a8b8d" stroke-width="5" d="M565.2,598.1l1.6,-0.0l1.6,-1.0l1.6,0.2l1.7,-0.3l1.7,0.3l1.7,-0.1l1.1,-0.9l1.1,-1.9l1.1,-0.1l1.1,-0.9l1.1,-1.0l0.9,-2.3l1.0,-1.2l1.0,-1.5l0.9,-1.5l0.3,-0.7l0.3,-1.7l0.3,-1.9l0.3,-1.4l0.3,-1.9l0.3,-2.0l1.0,-1.3l1.0,-1.1l0.9,-0.4l1.0,-1.7l0.4,-1.3l0.4,-1.4l0.5,-1.9l0.4,-1.2l0.4,-1.5l0.4,-1.0l0.5,-1.8l0.4,-1.6l0.4,-0.7l0.3,-2.1l0.4,-1.1l0.3,-1.8l0.3,-2.2l0.3,-1.1l0.4,-1.6l0.3,-1.1l0.3,-2.0l0.4,-1.2l0.3,-1.7l0.3,-2.0l0.3,-0.9l0.3,-2.4l0.3,-0.8l0.3,-2.3l0.3,-1.8l0.3,-1.4l0.3,-1.0l0.3,-1.3l0.3,-2.7l0.3,-1.1l0.3,-1.5l0.2,-1.2l0.3,-2.2l0.2,-1.2l0.3,-1.7l0.2,-1.0l0.3,-2.1l0.2,-0.8l0.3,-2.3l0.2,-1.6l0.3,-1.0l0.2,-1.7l0.3,-2.0l0.3,-0.9l0.2,-2.2l0.3,-0.8l0.2,-1.6l0.3,-1.4l0.3,-1.7l0.2,-1.9l0.3,-1.5l0.2,-1.5l0.3,-1.0l0.6,-2.6l0.5,-0.7l0.5,-2.6l0.6,-1.5l0.9,-0.7l0.9,-0.1l1.1,0.9l1.1,1.2l0.5,2.0l0.6,0.8l0.5,1.7l0.6,1.6l0.6,1.7l0.5,1.4l0.4,1.5l0.3,1.3l0.4,1.5l0.4,1.4l0.3,2.4l0.4,1.4l0.4,1.6l0.3,1.0l0.4,1.9l0.3,1.9l0.4,1.3l0.3,1.1l0.3,1.9l0.4,2.0l0.3,0.8l0.3,1.5l0.3,1.7l0.4,1.9l0.3,1.7l0.4,0.7l0.3,1.5l0.4,1.6l0.4,1.6l0.3,1.7l0.4,1.0l0.4,1.7l0.3,1.3l0.4,2.4l0.5,1.3l0.6,0.9l0.5,2.5l0.6,0.6l0.5,1.9l0.6,2.2l0.5,1.4l0.7,1.3l0.8,1.1l0.7,1.2l0.7,1.9l0.7,0.8l0.8,1.5l0.7,1.6l0.9,0.9l0.8,1.7l0.9,1.6l0.9,1.2l0.9,1.0l0.8,1.4l0.9,1.1l1.5,0.5l1.5,1.4l1.5,0.6l1.5,1.2l1.1,1.3l1.1,0.6l1.1,1.2l1.1,1.3l1.1,0.8l1.1,0.9l1.1,1.6l1.1,1.4l1.1,1.2l1.1,1.1l1.1,1.5l1.1,1.0l1.1,1.2l1.1,1.1l1.3,0.9l1.3,1.5l1.2,0.5l1.3,1.5l1.3,1.5l1.3,1.0l1.4,0.7l1.5,0.5l1.4,1.0l1.4,0.9l1.5,1.0l1.4,0.8" transform="translate(0.6,0.35)"/>
</g>
<g>
<text transform="translate(69.40,66.30) scale(0.9213,1)" font-size="42.2">1.0</text>
<text transform="translate(65.70,342.50) scale(0.9941,1)" font-size="42.2">0.5</text>
<text transform="translate(122.24,655.00) scale(0.9393,1)" font-size="42.2">0</text>
<text transform="translate(209.28,655.00) scale(0.8676,1)" font-size="42.2">10</text>
<text transform="translate(300.51,655.00) scale(0.9655,1)" font-size="42.2">20</text>
<text transform="translate(396.01,655.00) scale(0.9359,1)" font-size="42.2">30</text>
<text transform="translate(489.87,655.00) scale(0.9430,1)" font-size="42.2">40</text>
<text transform="translate(584.24,655.00) scale(0.9413,1)" font-size="42.2">50</text>
<text transform="translate(678.79,655.00) scale(0.9438,1)" font-size="42.2">60</text>
<text transform="translate(771.60,655.00) scale(0.9706,1)" font-size="42.2">70</text>
<text transform="translate(866.76,655.00) scale(0.9285,1)" font-size="42.2">80</text>
<text transform="translate(392.20,702.40) scale(1.0837,1)" font-size="40.8">Масса,</text>
<text transform="translate(530.42,702.40) scale(1.0691,1)" font-size="40.8">а.е.м.</text>
<text transform="translate(35.1,523.40) rotate(-90) translate(-1.28,0) scale(1.0661,1)" font-size="41.6">Интенсивность,</text>
<text transform="translate(35.1,523.40) rotate(-90) translate(306.17,0) scale(1.0892,1)" font-size="41.6">отн.</text>
<text transform="translate(35.1,523.40) rotate(-90) translate(388.96,0) scale(1.0878,1)" font-size="41.6">ед.</text>
<text transform="scale(1.022,1)"><tspan x="439.85" y="55.00" font-size="42.2">O</tspan><tspan x="472.66" y="64.10" font-size="29.6">2</tspan><tspan x="469.94" y="41.05" font-size="35.4">+</tspan></text>
<text transform="scale(1.022,1)"><tspan x="262.70" y="482.00" font-size="42.2">O</tspan><tspan x="293.77" y="468.75" font-size="35.4">+</tspan></text>
<text transform="scale(1.03,1)"><tspan x="294.48" y="533.80" font-size="42.2">H</tspan><tspan x="326.07" y="542.60" font-size="29.6">2</tspan><tspan x="340.93" y="533.80" font-size="42.2">O</tspan><tspan x="371.02" y="520.90" font-size="35.4">+</tspan></text>
<text transform="scale(1.0,1)"><tspan x="489.41" y="406.60" font-size="42.2">A</tspan><tspan x="519.94" y="406.60" font-size="42.2">r</tspan><tspan x="534.60" y="394.20" font-size="35.4">+</tspan></text>
<text transform="scale(1.05,1)"><tspan x="685.94" y="489.90" font-size="42.2">C</tspan><tspan x="714.72" y="489.90" font-size="42.2">u</tspan><tspan x="734.33" y="476.70" font-size="35.4">+</tspan></text>
</g>
</svg>
</body></html>
